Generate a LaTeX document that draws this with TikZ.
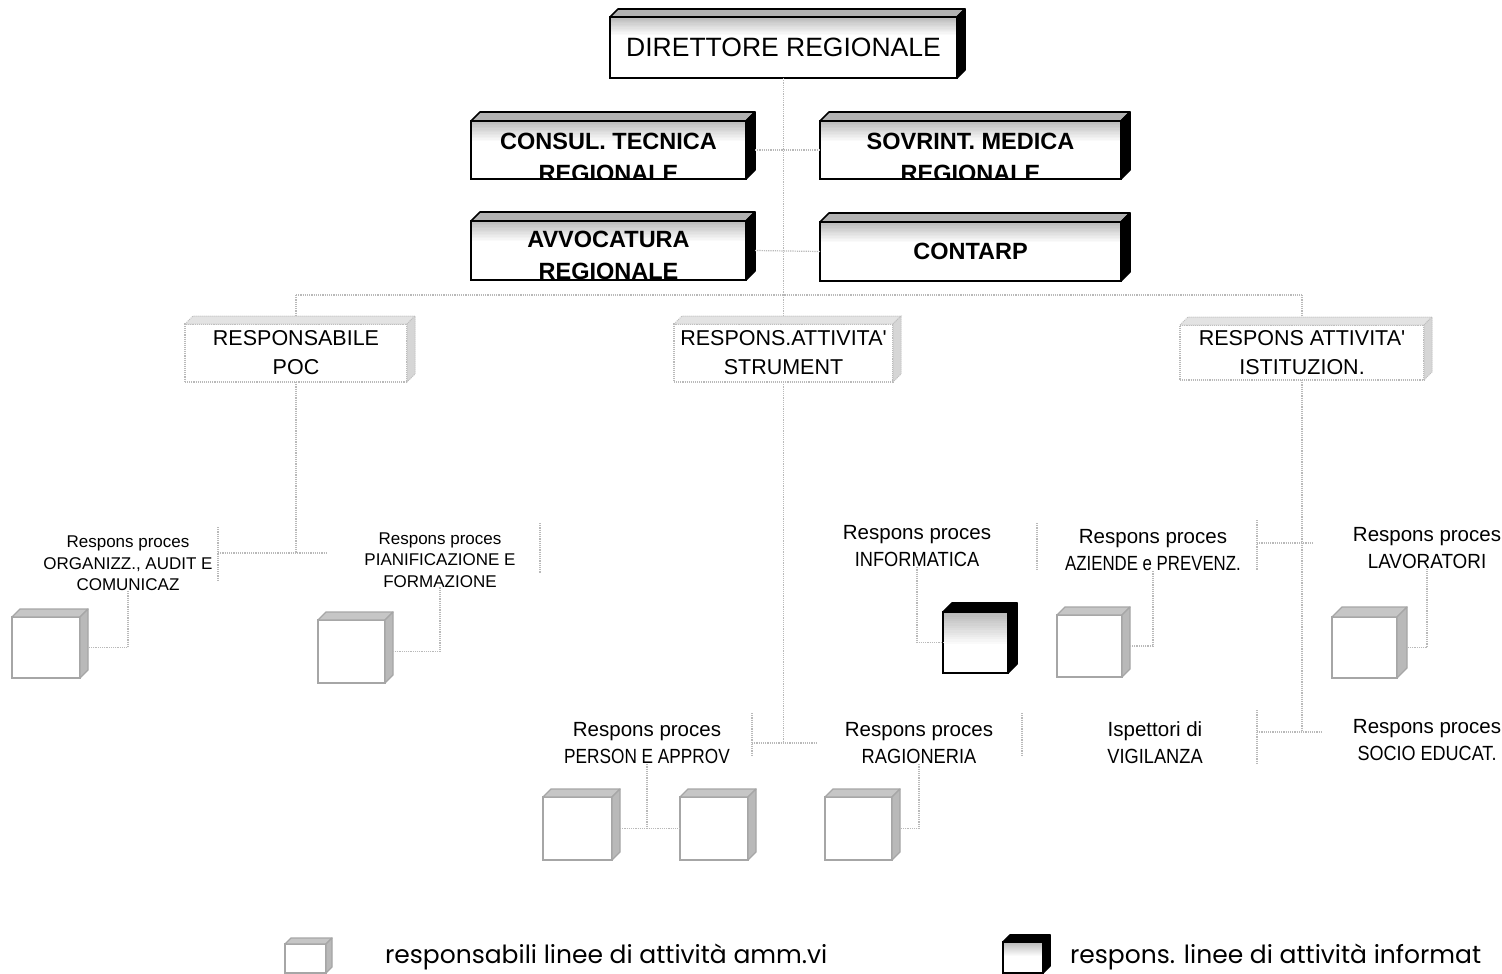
\documentclass[tikz,border=0pt]{standalone}
\usepackage{graphicx}
\usepackage{fontspec}
\setmainfont{Liberation Sans}
\newfontfamily\legendfont{Poppins}
% horizontally condensed capitals
\newcommand\cond[2][0.88]{\scalebox{#1}[1]{#2}}
% top and right faces of a bevelled box: node, depth (pt), top style, side style
\newcommand\faces[4]{%
  \path[#3] (#1.north west) -- ++(#2pt,#2pt) -- ([shift={(#2pt,#2pt)}]#1.north east) -- (#1.north east) -- cycle;
  \path[#4] (#1.north east) -- ([shift={(#2pt,#2pt)}]#1.north east) -- ([shift={(#2pt,#2pt)}]#1.south east) -- (#1.south east) -- cycle;
}
\tikzset{
  every node/.style={inner sep=0pt, outer sep=0pt},
  link/.style={draw=gray!55, densely dotted, line width=1.2pt},
  % front face with a grey haze fading downwards from the top edge
  dkfront/.style={draw=black, line width=1.6pt, fill=white,
    path picture={
      \foreach \i [evaluate=\i as \op using 0.55*(1-\i/14)] in {0,...,13}
        \fill[gray, fill opacity=\op]
          ([yshift={-\i*#1/14}]path picture bounding box.north west) rectangle
          ([yshift={-(\i+1)*#1/14}]path picture bounding box.north east);}},
  dkfront/.default=20pt,
  dktop/.style={fill=gray!60, draw=black, line width=1.6pt, line join=round},
  dkside/.style={fill=black, draw=black, line width=1.6pt, line join=round},
  lgfront/.style={draw=gray!55, densely dotted, line width=1.1pt, fill=white},
  lgtop/.style={fill=gray!22, draw=gray!50, densely dotted, line width=1pt},
  lgside/.style={fill=gray!32, draw=gray!50, densely dotted, line width=1pt},
  icfront/.style={draw=gray!70, line width=1.3pt, fill=white},
  ictop/.style={fill=gray!45, draw=gray!70, line width=1.3pt, line join=round},
  icside/.style={fill=gray!55, draw=gray!70, line width=1.3pt, line join=round},
  bigtxt/.style={font=\fontsize{26.5}{30}\selectfont},
  midtxt/.style={font=\bfseries\fontsize{23.5}{32}\selectfont, align=center},
  lvtxt/.style={font=\fontsize{21.5}{29}\selectfont, align=center},
  lab/.style={font=\fontsize{20.5}{27}\selectfont, align=center},
  labsm/.style={font=\fontsize{17}{21.5}\selectfont, align=center},
  legtxt/.style={font=\legendfont\fontsize{25}{30}\selectfont, anchor=base west},
}
\begin{document}
\begin{tikzpicture}[x=1pt,y=-1pt]
\fill[white] (0,0) rectangle (1502,974);
\useasboundingbox (0,0) rectangle (1502,974);

% ---------- top management ----------
\node[dkfront=18pt, bigtxt, minimum width=347pt, minimum height=61pt] (dir) at (783.5,47.5) {DIRETTORE REGIONALE};
\faces{dir}{8}{dktop}{dkside}

\node[dkfront, minimum width=275pt, minimum height=58pt] (consul) at (608.5,150) {};
\faces{consul}{9}{dktop}{dkside}
\node[dkfront, minimum width=301pt, minimum height=58pt] (sovr) at (970.5,150) {};
\faces{sovr}{9}{dktop}{dkside}
\node[dkfront, minimum width=275pt, minimum height=59pt] (avv) at (608.5,250.5) {};
\faces{avv}{9}{dktop}{dkside}
\node[dkfront, midtxt, minimum width=301pt, minimum height=59pt] (contarp) at (970.5,251.5) {CONTARP};
\faces{contarp}{9}{dktop}{dkside}

\begin{scope}
  \clip ([yshift=1pt]consul.south west) rectangle (consul.north east);
  \node[midtxt] (consul-t) at ([yshift=-7pt]consul.center) {CONSUL. TECNICA\\REGIONALE};
\end{scope}
\begin{scope}
  \clip ([yshift=1pt]sovr.south west) rectangle (sovr.north east);
  \node[midtxt] (sovr-t) at ([yshift=-7pt]sovr.center) {SOVRINT. MEDICA\\REGIONALE};
\end{scope}
\begin{scope}
  \clip ([yshift=1pt]avv.south west) rectangle (avv.north east);
  \node[midtxt] (avv-t) at ([yshift=-5pt]avv.center) {AVVOCATURA\\REGIONALE};
\end{scope}

% ---------- activity managers ----------
\node[lgfront, lvtxt, minimum width=222pt, minimum height=58pt] (poc) at (296,353) {RESPONSABILE\\POC};
\faces{poc}{8}{lgtop}{lgside}
\node[lgfront, lvtxt, minimum width=219pt, minimum height=58pt] (str) at (783.5,353) {RESPONS.ATTIVITA\textquotesingle\\STRUMENT};
\faces{str}{8}{lgtop}{lgside}
\node[lgfront, lvtxt, minimum width=244pt, minimum height=55pt] (ist) at (1302,352.5) {RESPONS ATTIVITA\textquotesingle\\ISTITUZION.};
\faces{ist}{8}{lgtop}{lgside}

% ---------- process managers ----------
\node[labsm] (orgz) at (128,563.5) {Respons proces\\ORGANIZZ., AUDIT E\\COMUNICAZ};
\node[labsm] (pian) at (440,560) {Respons proces\\PIANIFICAZIONE E\\FORMAZIONE};
\node[lab] (inf) at (917,546.5) {Respons proces\\\cond[0.89]{INFORMATICA}};
\node[lab] (azi) at (1153,550.5) {Respons proces\\\cond[0.82]{AZIENDE e PREVENZ.}};
\node[lab] (lav) at (1427,548) {Respons proces\\\cond[0.92]{LAVORATORI}};
\node[lab] (pers) at (647,743.5) {Respons proces\\\cond[0.84]{PERSON E APPROV}};
\node[lab] (rag) at (919,743.5) {Respons proces\\\cond[0.89]{RAGIONERIA}};
\node[lab] (isp) at (1155,742.5) {Ispettori di\\\cond[0.89]{VIGILANZA}};
\node[lab] (soc) at (1427,740) {Respons proces\\\cond[0.88]{SOCIO EDUCAT.}};

% ---------- staff icons ----------
\node[icfront, minimum width=68pt, minimum height=61pt] (ic1) at (46,647.5) {};
\faces{ic1}{8}{ictop}{icside}
\node[icfront, minimum width=67pt, minimum height=63pt] (ic2) at (351.5,651.5) {};
\faces{ic2}{8}{ictop}{icside}
\node[dkfront=32pt, minimum width=65pt, minimum height=61pt] (icInf) at (975.5,642.5) {};
\faces{icInf}{9}{dkside}{dkside}
\node[icfront, minimum width=65pt, minimum height=62pt] (icAz) at (1089.5,646) {};
\faces{icAz}{8}{ictop}{icside}
\node[icfront, minimum width=65pt, minimum height=61pt] (icLav) at (1364.5,647.5) {};
\faces{icLav}{10}{ictop}{icside}
\node[icfront, minimum width=69pt, minimum height=63pt] (icP1) at (577.5,828.5) {};
\faces{icP1}{8}{ictop}{icside}
\node[icfront, minimum width=68pt, minimum height=63pt] (icP2) at (714,828.5) {};
\faces{icP2}{8}{ictop}{icside}
\node[icfront, minimum width=67pt, minimum height=63pt] (icR) at (858.5,828.5) {};
\faces{icR}{8}{ictop}{icside}

% ---------- connectors ----------
\coordinate (trunk) at (783.5,295);
\draw[link] (dir.south) -- (trunk);
\draw[link] ([xshift=9pt]consul.east) -- (sovr.west);
\draw[link] ([xshift=9pt]avv.east) -- (contarp.west);
\draw[link] (poc.north |- trunk) -- (ist.north |- trunk);
\draw[link] (poc.north |- trunk) -- ([yshift=8pt]poc.north);
\draw[link] (trunk) -- ([yshift=8pt]str.north);
\draw[link] (ist.north |- trunk) -- ([yshift=8pt]ist.north);

% POC branch
\coordinate (pocJ) at (296,553);
\coordinate (orgzR) at (218,553);
\coordinate (pianL) at (328,553);
\coordinate (pianR) at (540,548);
\draw[link] (poc.south) -- (pocJ);
\draw[link] (orgzR) -- (pianL);
\draw[link] ([yshift=26pt]orgzR) -- ([yshift=-29pt]orgzR);
\draw[link] ([yshift=25pt]pianR) -- ([yshift=-25pt]pianR);

% STRUMENT branch
\coordinate (strJ) at (783.5,743);
\coordinate (persR) at (752,743);
\coordinate (ragL) at (817,743);
\coordinate (ragR) at (1022,735);
\coordinate (infR) at (1037,546.5);
\draw[link] (str.south) -- (strJ);
\draw[link] (persR) -- (ragL);
\draw[link] ([yshift=30pt]persR) -- ([yshift=-14pt]persR);
\draw[link] ([yshift=22pt]ragR) -- ([yshift=-22pt]ragR);
\draw[link] ([yshift=23.5pt]infR) -- ([yshift=-23.5pt]infR);

% ISTITUZIONALE branch
\coordinate (istJ) at (1302,732);
\coordinate (aziR) at (1257,543);
\coordinate (lavL) at (1314,543);
\coordinate (ispR) at (1257,732);
\coordinate (socL) at (1322,732);
\draw[link] (ist.south) -- (istJ);
\draw[link] (aziR) -- (lavL);
\draw[link] (ispR) -- (socL);
\draw[link] ([yshift=23pt]aziR) -- ([yshift=-27pt]aziR);
\draw[link] ([yshift=22pt]ispR) -- ([yshift=-31pt]ispR);

% labels to icons
\draw[link] (orgz.south) |- ([xshift=8pt]ic1.east);
\draw[link] (pian.south) |- ([xshift=8pt]ic2.east);
\draw[link] (inf.south) |- (icInf.west);
\draw[link] (azi.south) |- ([xshift=8pt]icAz.east);
\draw[link] (lav.south) |- ([xshift=10pt]icLav.east);
\draw[link] (pers.south) -- (pers.south |- icP1.east);
\draw[link] ([xshift=8pt]icP1.east) -- (icP2.west);
\draw[link] (rag.south) |- ([xshift=8pt]icR.east);

% ---------- legend ----------
\node[icfront, minimum width=41pt, minimum height=29pt] (legA) at (305.5,958.5) {};
\faces{legA}{6}{ictop}{icside}
\node[legtxt] (legA-t) at (385,963) {responsabili linee di attività amm.vi};
\node[dkfront=14pt, minimum width=40pt, minimum height=31pt] (legB) at (1023,957.5) {};
\faces{legB}{7}{dkside}{dkside}
\node[legtxt] (legB-t) at (1070,963) {respons. linee di attività informat};
\end{tikzpicture}
\end{document}
